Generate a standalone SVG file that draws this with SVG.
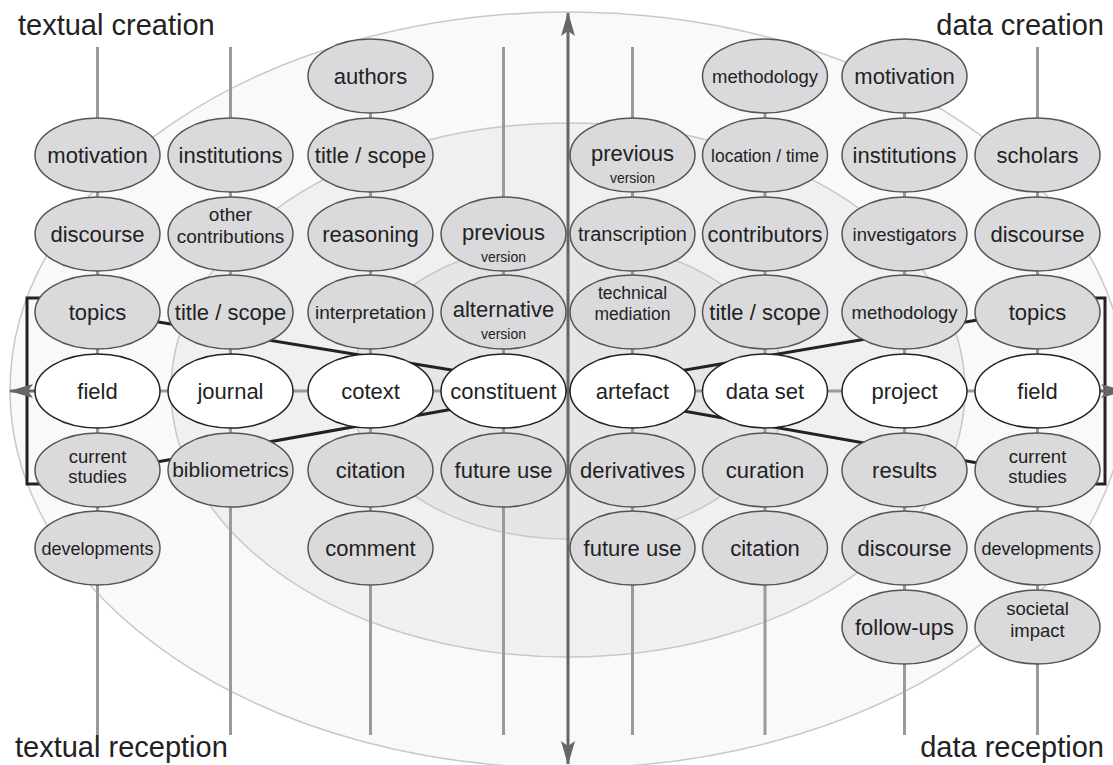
<svg xmlns="http://www.w3.org/2000/svg" width="1113" height="765" viewBox="0 0 1113 765">
<defs>
<style>
.ring{stroke:#c8c8c8;stroke-width:1.5}
.col{stroke:#9a9a9a;stroke-width:3;fill:none}
.blk{stroke:#222;stroke-width:3;fill:none}
.ax{stroke:#666;stroke-width:3;fill:none}
.g ellipse{fill:#dadadc;stroke:#555;stroke-width:1.5}
.w ellipse{fill:#fff;stroke:#222;stroke-width:1.5}
text{font-family:"Liberation Sans",Arial,Helvetica,sans-serif;fill:#222;text-anchor:middle;font-size:22px}
.s19{font-size:19px}
.s20{font-size:20px}
.s18{font-size:18.5px}
.s17{font-size:17.5px}
.s16{font-size:18px}
.s21{font-size:21px}
.v{font-size:14px}
.corner{font-size:29px;text-anchor:start}
.cornerE{font-size:29px;text-anchor:end}
</style>
<marker id="ah" viewBox="0 0 24 16" refX="23" refY="8" markerUnits="userSpaceOnUse" markerWidth="24" markerHeight="16" orient="auto-start-reverse">
<path d="M0,1 L24,8 L0,15 L5,8 Z" fill="#666"/>
</marker>
</defs>
<rect width="1113" height="765" fill="#fff"/>
<g id="rings">
<ellipse class="ring" cx="568" cy="390" rx="558" ry="378" fill="#f9f9f9"/>
<ellipse class="ring" cx="568" cy="390" rx="397" ry="267" fill="#f0f0f2"/>
<ellipse class="ring" cx="568" cy="390" rx="218" ry="149" fill="#e6e6e9"/>
</g>
<g id="connectors">
<line class="col" x1="97.5" y1="47" x2="97.5" y2="735"/>
<line class="col" x1="230.5" y1="47" x2="230.5" y2="735"/>
<line class="col" x1="370.5" y1="76" x2="370.5" y2="735"/>
<line class="col" x1="503.5" y1="47" x2="503.5" y2="735"/>
<line class="col" x1="632.5" y1="47" x2="632.5" y2="735"/>
<line class="col" x1="765" y1="76" x2="765" y2="735"/>
<line class="col" x1="904.5" y1="76" x2="904.5" y2="735"/>
<line class="col" x1="1037.5" y1="47" x2="1037.5" y2="735"/>
<line class="col" x1="97.5" y1="391" x2="1037.5" y2="391"/>
<line x1="562" y1="391" x2="575" y2="391" stroke="#222" stroke-width="3"/>
<line class="blk" x1="140" y1="319" x2="470" y2="373"/>
<line class="blk" x1="140" y1="465" x2="470" y2="406"/>
<line class="blk" x1="665" y1="373.4" x2="995" y2="316.9"/>
<line class="blk" x1="665" y1="407.8" x2="995" y2="466"/>
<path class="blk" d="M45,298 H27 V484 H45"/>
<path class="blk" d="M1030,298 H1105 V484 H1030"/>
<line class="ax" x1="35" y1="391" x2="10" y2="391" marker-end="url(#ah)"/>
<line class="ax" x1="1100" y1="391" x2="1124" y2="391" marker-end="url(#ah)"/>
<line class="ax" x1="568" y1="13" x2="568" y2="764" marker-start="url(#ah)" marker-end="url(#ah)"/>
</g>
<g id="c1-motivation" class="g"><ellipse cx="97.5" cy="155" rx="62.5" ry="37"/><text x="97.5" y="162.5">motivation</text></g>
<g id="c1-discourse" class="g"><ellipse cx="97.5" cy="234" rx="62.5" ry="37"/><text x="97.5" y="241.5">discourse</text></g>
<g id="c1-topics" class="g"><ellipse cx="97.5" cy="312" rx="62.5" ry="37"/><text x="97.5" y="319.5">topics</text></g>
<g id="c1-field" class="w"><ellipse cx="97.5" cy="391" rx="62.5" ry="37"/><text x="97.5" y="398.5">field</text></g>
<g id="c1-current" class="g"><ellipse cx="97.5" cy="470" rx="62.5" ry="37"/><text class="s18" x="97.5" y="463">current</text><text class="s18" x="97.5" y="483">studies</text></g>
<g id="c1-developments" class="g"><ellipse cx="97.5" cy="548" rx="62.5" ry="37"/><text class="s16" x="97.5" y="554.5">developments</text></g>

<g id="c2-institutions" class="g"><ellipse cx="230.5" cy="155" rx="62.5" ry="37"/><text x="230.5" y="162.5">institutions</text></g>
<g id="c2-other" class="g"><ellipse cx="230.5" cy="234" rx="62.5" ry="37"/><text class="s19" x="230.5" y="221">other</text><text class="s19" x="230.5" y="243">contributions</text></g>
<g id="c2-title" class="g"><ellipse cx="230.5" cy="312" rx="62.5" ry="37"/><text x="230.5" y="319.5">title / scope</text></g>
<g id="c2-journal" class="w"><ellipse cx="230.5" cy="391" rx="62.5" ry="37"/><text x="230.5" y="398.5">journal</text></g>
<g id="c2-bibliometrics" class="g"><ellipse cx="230.5" cy="470" rx="62.5" ry="37"/><text class="s21" x="230.5" y="477">bibliometrics</text></g>

<g id="c3-authors" class="g"><ellipse cx="370.5" cy="76" rx="62.5" ry="37"/><text x="370.5" y="83.5">authors</text></g>
<g id="c3-title" class="g"><ellipse cx="370.5" cy="155" rx="62.5" ry="37"/><text x="370.5" y="162.5">title / scope</text></g>
<g id="c3-reasoning" class="g"><ellipse cx="370.5" cy="234" rx="62.5" ry="37"/><text x="370.5" y="241.5">reasoning</text></g>
<g id="c3-interpretation" class="g"><ellipse cx="370.5" cy="312" rx="62.5" ry="37"/><text class="s19" x="370.5" y="319">interpretation</text></g>
<g id="c3-cotext" class="w"><ellipse cx="370.5" cy="391" rx="62.5" ry="37"/><text x="370.5" y="398.5">cotext</text></g>
<g id="c3-citation" class="g"><ellipse cx="370.5" cy="470" rx="62.5" ry="37"/><text x="370.5" y="477.5">citation</text></g>
<g id="c3-comment" class="g"><ellipse cx="370.5" cy="548" rx="62.5" ry="37"/><text x="370.5" y="555.5">comment</text></g>

<g id="c4-previous" class="g"><ellipse cx="503.5" cy="234" rx="62.5" ry="37"/><text x="503.5" y="240">previous</text><text class="v" x="503.5" y="262">version</text></g>
<g id="c4-alternative" class="g"><ellipse cx="503.5" cy="312" rx="62.5" ry="37"/><text x="503.5" y="317">alternative</text><text class="v" x="503.5" y="339">version</text></g>
<g id="c4-constituent" class="w"><ellipse cx="503.5" cy="391" rx="62.5" ry="37"/><text x="503.5" y="398.5">constituent</text></g>
<g id="c4-future" class="g"><ellipse cx="503.5" cy="470" rx="62.5" ry="37"/><text x="503.5" y="477.5">future use</text></g>

<g id="c5-previous" class="g"><ellipse cx="632.5" cy="155" rx="62.5" ry="37"/><text x="632.5" y="161">previous</text><text class="v" x="632.5" y="183">version</text></g>
<g id="c5-transcription" class="g"><ellipse cx="632.5" cy="234" rx="62.5" ry="37"/><text class="s20" x="632.5" y="241">transcription</text></g>
<g id="c5-technical" class="g"><ellipse cx="632.5" cy="312" rx="62.5" ry="37"/><text class="s17" x="632.5" y="299">technical</text><text class="s17" x="632.5" y="320">mediation</text></g>
<g id="c5-artefact" class="w"><ellipse cx="632.5" cy="391" rx="62.5" ry="37"/><text x="632.5" y="398.5">artefact</text></g>
<g id="c5-derivatives" class="g"><ellipse cx="632.5" cy="470" rx="62.5" ry="37"/><text x="632.5" y="477.5">derivatives</text></g>
<g id="c5-future" class="g"><ellipse cx="632.5" cy="548" rx="62.5" ry="37"/><text x="632.5" y="555.5">future use</text></g>

<g id="c6-methodology" class="g"><ellipse cx="765" cy="76" rx="62.5" ry="37"/><text class="s18" x="765" y="83">methodology</text></g>
<g id="c6-location" class="g"><ellipse cx="765" cy="155" rx="62.5" ry="37"/><text class="s17" x="765" y="162">location / time</text></g>
<g id="c6-contributors" class="g"><ellipse cx="765" cy="234" rx="62.5" ry="37"/><text x="765" y="241.5">contributors</text></g>
<g id="c6-title" class="g"><ellipse cx="765" cy="312" rx="62.5" ry="37"/><text x="765" y="319.5">title / scope</text></g>
<g id="c6-dataset" class="w"><ellipse cx="765" cy="391" rx="62.5" ry="37"/><text x="765" y="398.5">data set</text></g>
<g id="c6-curation" class="g"><ellipse cx="765" cy="470" rx="62.5" ry="37"/><text x="765" y="477.5">curation</text></g>
<g id="c6-citation" class="g"><ellipse cx="765" cy="548" rx="62.5" ry="37"/><text x="765" y="555.5">citation</text></g>

<g id="c7-motivation" class="g"><ellipse cx="904.5" cy="76" rx="62.5" ry="37"/><text x="904.5" y="83.5">motivation</text></g>
<g id="c7-institutions" class="g"><ellipse cx="904.5" cy="155" rx="62.5" ry="37"/><text x="904.5" y="162.5">institutions</text></g>
<g id="c7-investigators" class="g"><ellipse cx="904.5" cy="234" rx="62.5" ry="37"/><text class="s18" x="904.5" y="241">investigators</text></g>
<g id="c7-methodology" class="g"><ellipse cx="904.5" cy="312" rx="62.5" ry="37"/><text class="s18" x="904.5" y="319">methodology</text></g>
<g id="c7-project" class="w"><ellipse cx="904.5" cy="391" rx="62.5" ry="37"/><text x="904.5" y="398.5">project</text></g>
<g id="c7-results" class="g"><ellipse cx="904.5" cy="470" rx="62.5" ry="37"/><text x="904.5" y="477.5">results</text></g>
<g id="c7-discourse" class="g"><ellipse cx="904.5" cy="548" rx="62.5" ry="37"/><text x="904.5" y="555.5">discourse</text></g>
<g id="c7-followups" class="g"><ellipse cx="904.5" cy="627" rx="62.5" ry="37"/><text x="904.5" y="634.5">follow-ups</text></g>

<g id="c8-scholars" class="g"><ellipse cx="1037.5" cy="155" rx="62.5" ry="37"/><text x="1037.5" y="162.5">scholars</text></g>
<g id="c8-discourse" class="g"><ellipse cx="1037.5" cy="234" rx="62.5" ry="37"/><text x="1037.5" y="241.5">discourse</text></g>
<g id="c8-topics" class="g"><ellipse cx="1037.5" cy="312" rx="62.5" ry="37"/><text x="1037.5" y="319.5">topics</text></g>
<g id="c8-field" class="w"><ellipse cx="1037.5" cy="391" rx="62.5" ry="37"/><text x="1037.5" y="398.5">field</text></g>
<g id="c8-current" class="g"><ellipse cx="1037.5" cy="470" rx="62.5" ry="37"/><text class="s18" x="1037.5" y="463">current</text><text class="s18" x="1037.5" y="483">studies</text></g>
<g id="c8-developments" class="g"><ellipse cx="1037.5" cy="548" rx="62.5" ry="37"/><text class="s16" x="1037.5" y="554.5">developments</text></g>
<g id="c8-societal" class="g"><ellipse cx="1037.5" cy="627" rx="62.5" ry="37"/><text class="s18" x="1037.5" y="615">societal</text><text class="s18" x="1037.5" y="637">impact</text></g>

<g id="corner-labels">
<text class="corner" x="18" y="35">textual creation</text>
<text class="cornerE" x="1104" y="35">data creation</text>
<text class="corner" x="15" y="757">textual reception</text>
<text class="cornerE" x="1104" y="757">data reception</text>
</g>
</svg>
